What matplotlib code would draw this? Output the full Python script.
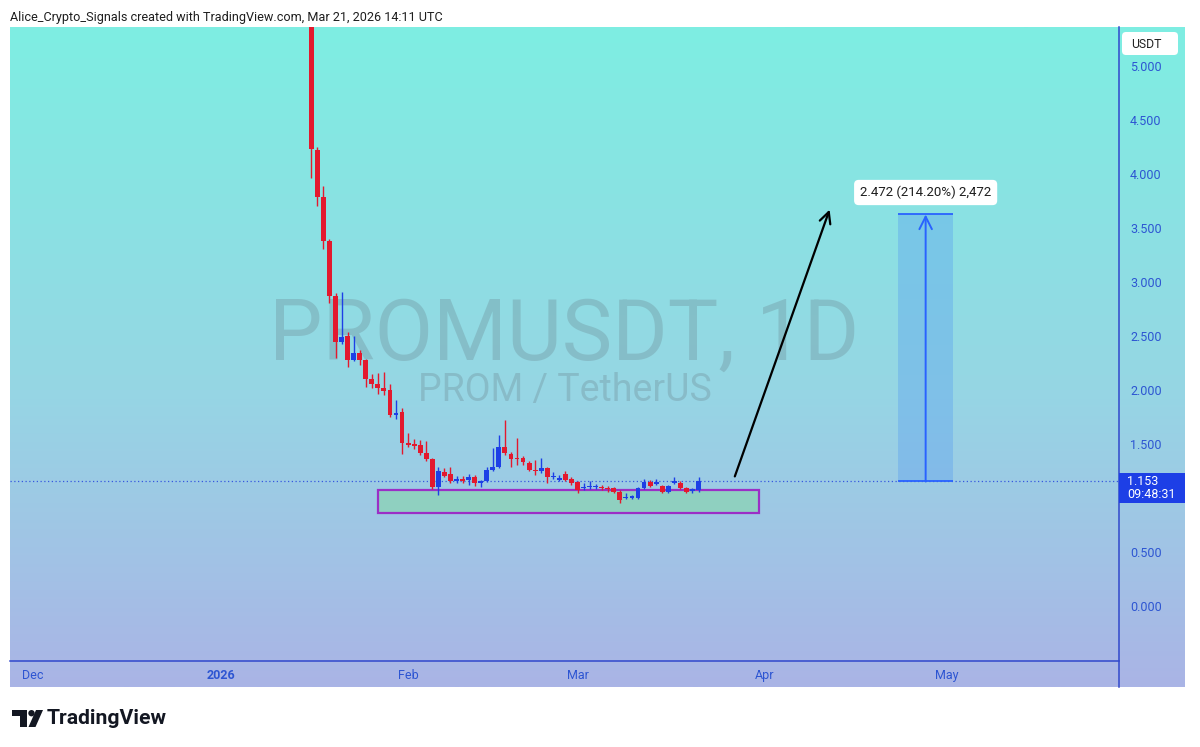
import matplotlib
matplotlib.use('Agg')
import matplotlib.pyplot as plt
import matplotlib.dates as mdates
from matplotlib.patches import Rectangle, Polygon, Circle, FancyBboxPatch
from matplotlib.transforms import blended_transform_factory
import numpy as np
import pandas as pd

plt.rcParams['font.family'] = ['Roboto', 'DejaVu Sans']

# daily candles PROMUSDT, 16 Jan - 21 Mar 2026
dates = pd.date_range('2026-01-16', periods=65, freq='D')
opens = [6.20, 4.22, 3.79, 3.38, 2.87, 2.44, 2.50, 2.28, 2.34, 2.28,
         2.10, 2.06, 2.02, 2.00, 1.77, 1.80, 1.51, 1.50, 1.49, 1.42,
         1.36, 1.10, 1.24, 1.22, 1.16, 1.17, 1.17, 1.19, 1.14, 1.16,
         1.26, 1.29, 1.47, 1.41, 1.37, 1.37, 1.32, 1.26, 1.25, 1.28,
         1.19, 1.17, 1.22, 1.18, 1.15, 1.09, 1.10, 1.10, 1.10, 1.09,
         1.09, 1.06, 1.00, 1.00, 1.00, 1.09, 1.15, 1.13, 1.11, 1.06,
         1.14, 1.14, 1.09, 1.065, 1.07]
highs = [6.50, 4.25, 3.89, 3.40, 2.90, 2.91, 2.54, 2.50, 2.37, 2.29,
         2.15, 2.16, 2.17, 2.06, 1.91, 1.83, 1.60, 1.55, 1.54, 1.53,
         1.37, 1.29, 1.28, 1.29, 1.20, 1.20, 1.22, 1.21, 1.17, 1.29,
         1.46, 1.58, 1.72, 1.43, 1.56, 1.39, 1.34, 1.35, 1.37, 1.29,
         1.24, 1.21, 1.25, 1.19, 1.16, 1.14, 1.16, 1.13, 1.12, 1.11,
         1.10, 1.07, 1.05, 1.03, 1.10, 1.18, 1.17, 1.18, 1.12, 1.12,
         1.19, 1.16, 1.10, 1.09, 1.19]
lows = [3.96, 3.70, 3.31, 2.81, 2.30, 2.43, 2.21, 2.27, 2.23, 2.03,
        2.02, 1.96, 1.95, 1.75, 1.73, 1.41, 1.47, 1.45, 1.40, 1.34,
        1.08, 1.03, 1.19, 1.14, 1.14, 1.14, 1.12, 1.11, 1.10, 1.15,
        1.25, 1.28, 1.40, 1.29, 1.31, 1.31, 1.25, 1.21, 1.23, 1.14,
        1.18, 1.16, 1.16, 1.12, 1.05, 1.07, 1.08, 1.08, 1.07, 1.06,
        1.05, 0.95, 0.99, 0.99, 0.99, 1.08, 1.10, 1.12, 1.05, 1.05,
        1.13, 1.08, 1.05, 1.05, 1.06]
closes = [4.23, 3.79, 3.38, 2.87, 2.44, 2.49, 2.28, 2.34, 2.28, 2.10,
          2.06, 2.02, 1.99, 1.77, 1.79, 1.51, 1.49, 1.48, 1.42, 1.36,
          1.10, 1.25, 1.20, 1.16, 1.17, 1.16, 1.19, 1.14, 1.16, 1.26,
          1.29, 1.47, 1.42, 1.36, 1.36, 1.33, 1.26, 1.25, 1.28, 1.19,
          1.20, 1.18, 1.17, 1.14, 1.07, 1.10, 1.11, 1.11, 1.09, 1.08,
          1.06, 0.98, 1.01, 1.02, 1.09, 1.15, 1.11, 1.14, 1.06, 1.11,
          1.15, 1.09, 1.06, 1.075, 1.153]

price_ticks = [0.0, 0.5, 1.5, 2.0, 2.5, 3.0, 3.5, 4.0, 4.5, 5.0]
month_ticks = ['2025-12-01', '2026-01-01', '2026-02-01', '2026-03-01', '2026-04-01', '2026-05-01']
month_labels = ['Dec', '2026', 'Feb', 'Mar', 'Apr', 'May']

# drawings
zone_start, zone_end = '2026-01-27', '2026-03-31'
zone_low, zone_high = 0.861, 1.074
arrow_start = ('2026-03-27', 1.20)
arrow_end = ('2026-04-11 16:00', 3.67)
measure_start, measure_end = '2026-04-23', '2026-05-02 02:00'
measure_low, measure_high = 1.153, 3.625
measure_label = '2.472 (214.20%) 2,472'
countdown = '09:48:31'

RED = '#e3192e'
BLUE = '#1d3fe6'
AXIS_BLUE = '#3148cc'
LABEL_BLUE = '#2d55d2'


def dn(s):
    return mdates.date2num(pd.Timestamp(s))


fig = plt.figure(figsize=(12, 7.47), dpi=100)
fig.patch.set_facecolor('white')

# pixel overlay for background and decorations
ov = fig.add_axes([0, 0, 1, 1], zorder=0)
ov.set_xlim(0, 1200)
ov.set_ylim(747, 0)
ov.axis('off')

stops = np.array([[126, 238, 226], [150, 214, 228], [170, 180, 230]]) / 255.0
t = np.linspace(0, 1, 300)
grad = np.stack([np.interp(t, [0, 0.55, 1], stops[:, k]) for k in range(3)], axis=-1)
ov.imshow(grad[:, None, :], extent=[10, 1185, 687, 27], aspect='auto', interpolation='bilinear')
ov.plot([1119, 1119], [27, 687], color=AXIS_BLUE, lw=1.1)

# header and logo
fig.text(10 / 1200, 1 - 17 / 747, 'Alice_Crypto_Signals created with TradingView.com, Mar 21, 2026 14:11 UTC',
         fontsize=9.1, va='center', ha='left', color='#1e1e1e')
ink = '#131722'
ov.add_patch(Polygon([(12, 710), (27, 710), (27, 727), (20, 727), (20, 716), (12, 716)], closed=True, fc=ink, ec='none'))
ov.add_patch(Circle((31.5, 713.2), 3.2, fc=ink, ec='none'))
ov.add_patch(Polygon([(36, 710), (43, 710), (35.5, 727), (28.5, 727)], closed=True, fc=ink, ec='none'))
ov.text(47, 718.5, 'TradingView', fontsize=15.2, fontweight='bold', va='center', ha='left', color=ink)

# USDT label
ov.add_patch(FancyBboxPatch((1122, 32), 56, 23, boxstyle='round,pad=0,rounding_size=4', fc='white', ec='none'))
ov.text(1131, 44, 'USDT', fontsize=8.8, va='center', ha='left', color='#222222')

# main chart
ax = fig.add_axes([10 / 1200, (747 - 661) / 747, 1109 / 1200, 634 / 747], zorder=1)
ax.patch.set_alpha(0)
x0 = dn('2025-12-01')
ax.set_xlim(x0 - 3.8, x0 + 179.5)
ax.set_ylim(-0.509, 5.361)

ax.text(0.5, 0.512, 'PROMUSDT, 1D', transform=ax.transAxes, ha='center', va='center',
        fontsize=61, color='#5f6f78', alpha=0.25)
ax.text(0.5, 0.427, 'PROM / TetherUS', transform=ax.transAxes, ha='center', va='center',
        fontsize=27, color='#5f6f78', alpha=0.25)

xs = mdates.date2num(dates)
o = np.array(opens)
h = np.array(highs)
l = np.array(lows)
c = np.array(closes)
cols = [RED if cc < oo else BLUE for oo, cc in zip(o, c)]

ax.add_patch(Rectangle((dn(zone_start), zone_low), dn(zone_end) - dn(zone_start), zone_high - zone_low,
                       fc='#8fd0c0', ec='#9b2fc6', lw=1.6, zorder=1))

ax.axhline(closes[-1], ls=(0, (1, 2)), color='#3658e0', lw=0.9, zorder=2)

ax.vlines(xs, l, h, colors=cols, lw=1.0, zorder=3)
ax.bar(xs, np.maximum(np.abs(c - o), 0.014), bottom=np.minimum(o, c), width=0.8,
       color=cols, lw=0, zorder=4)

ax.annotate('', xy=(dn(arrow_end[0]), arrow_end[1]), xytext=(dn(arrow_start[0]), arrow_start[1]),
            arrowprops=dict(arrowstyle='->,head_length=0.8,head_width=0.4', color='black', lw=1.6,
                            shrinkA=0, shrinkB=0), zorder=5)

m0, m1 = dn(measure_start), dn(measure_end)
mid = (m0 + m1) / 2
ax.add_patch(Rectangle((m0, measure_low), m1 - m0, measure_high - measure_low,
                       fc='#5a9ff0', ec='none', alpha=0.38, zorder=2))
ax.hlines([measure_low, measure_high], m0, m1, colors='#2962ff', lw=1.3, zorder=5)
ax.annotate('', xy=(mid, measure_high), xytext=(mid, measure_low),
            arrowprops=dict(arrowstyle='->,head_length=0.9,head_width=0.45', color='#2962ff', lw=1.4,
                            shrinkA=0, shrinkB=0), zorder=5)
ax.annotate(measure_label, xy=(mid, measure_high), xytext=(0, 22), textcoords='offset pixels',
            ha='center', va='center', fontsize=9.5, color='#1e1e1e', zorder=6,
            bbox=dict(boxstyle='round,pad=0.45,rounding_size=0.35', fc='white', ec='none'))

# axes styling
ax.yaxis.tick_right()
ax.set_yticks(price_ticks)
ax.set_yticklabels([f'{p:.3f}' for p in price_ticks])
ax.set_xticks([dn(m) for m in month_ticks])
ax.set_xticklabels(month_labels)
ax.get_xticklabels()[1].set_fontweight('bold')
ax.tick_params(axis='y', length=0, pad=8, labelsize=9, labelcolor=LABEL_BLUE)
ax.tick_params(axis='x', length=0, pad=6, labelsize=9, labelcolor=LABEL_BLUE)
for s in ['top', 'left', 'right']:
    ax.spines[s].set_visible(False)
ax.spines['bottom'].set_color(AXIS_BLUE)
ax.spines['bottom'].set_linewidth(1.1)

# last price tag
tr = blended_transform_factory(ax.transAxes, ax.transData)
ax.add_patch(Rectangle((1.0, closes[-1] - 0.199), 66 / 1109, 0.278, transform=tr,
                       fc=BLUE, ec='none', clip_on=False, zorder=7))
ax.text(1.0 + 8 / 1109, closes[-1], f'{closes[-1]:.3f}', transform=tr, ha='left', va='center',
        fontsize=9, color='white', clip_on=False, zorder=8)
ax.text(1.0 + 8 / 1109, closes[-1] - 0.12, countdown, transform=tr, ha='left', va='center',
        fontsize=9, color='white', clip_on=False, zorder=8)

fig.savefig('out.png', dpi=100)
